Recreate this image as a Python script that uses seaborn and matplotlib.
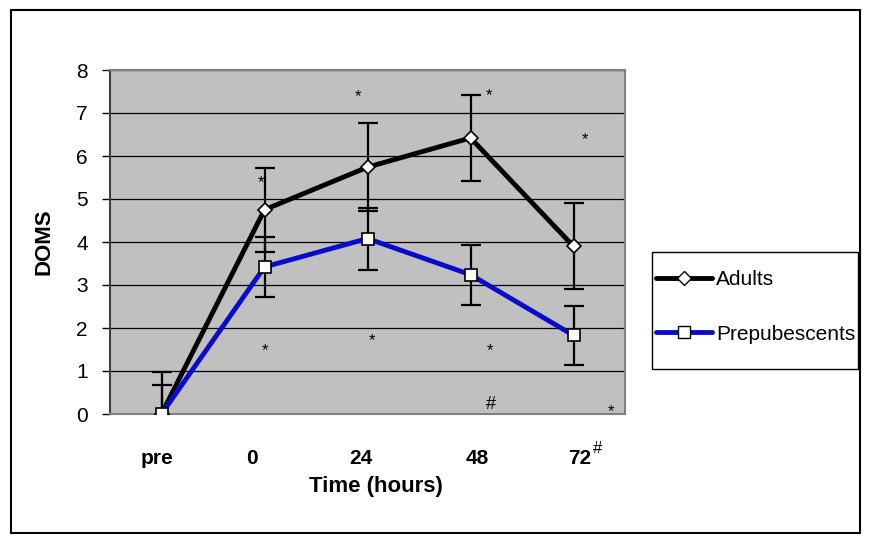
import numpy as np
import pandas as pd
import matplotlib.pyplot as plt
import matplotlib.transforms as mtransforms
from matplotlib.patches import Rectangle
from matplotlib.lines import Line2D
import seaborn as sns

# data
time_labels = ["pre", "0", "24", "48", "72"]
adults = [0.0, 4.75, 5.74, 6.42, 3.90]
adults_err = [0.98, 0.98, 1.02, 1.0, 1.0]
prepub = [0.0, 3.42, 4.08, 3.24, 1.83]
prepub_err = [0.67, 0.70, 0.72, 0.70, 0.69]

# significance marks (category index, DOMS value, symbol)
mark_x = [0.97, 1.91, 3.18, 4.11, 1.0, 2.04, 3.19, 4.36, 3.2]
mark_y = [5.37, 7.37, 7.40, 6.37, 1.47, 1.70, 1.47, 0.05, 0.23]
mark_sym = ["*", "*", "*", "*", "*", "*", "*", "*", "#"]

sns.set_theme(style="white")
plt.rcParams["font.family"] = ["Liberation Sans", "DejaVu Sans"]
plt.rcParams["text.color"] = "black"
plt.rcParams["axes.labelcolor"] = "black"
plt.rcParams["ytick.color"] = "black"
narrow = ["Liberation Sans Narrow", "Liberation Sans", "DejaVu Sans"]

df = pd.DataFrame({
    "idx": list(range(len(time_labels))) * 2,
    "DOMS": adults + prepub,
    "group": ["Adults"] * 5 + ["Prepubescents"] * 5,
})

fig = plt.figure(figsize=(8.72, 5.44), dpi=100)
ax = fig.add_axes([110 / 872, 130 / 544, 515 / 872, 344 / 544])
ax.set_facecolor("#c0c0c0")

idx = np.arange(len(time_labels))
ax.errorbar(idx, adults, yerr=adults_err, fmt="none", ecolor="black",
            elinewidth=1.6, capsize=7, capthick=1.6, zorder=3)
ax.errorbar(idx, prepub, yerr=prepub_err, fmt="none", ecolor="black",
            elinewidth=1.6, capsize=7, capthick=1.6, zorder=3)

sns.lineplot(data=df, x="idx", y="DOMS", hue="group", style="group",
             palette={"Adults": "black", "Prepubescents": "#0a0acc"},
             markers={"Adults": "D", "Prepubescents": "s"},
             dashes=False, linewidth=3.5, markersize=9,
             markerfacecolor="white", markeredgecolor="black",
             markeredgewidth=1.2, legend=False, ax=ax, zorder=4)
for ln in ax.lines:
    if ln.get_marker() == "D":
        ln.set_markersize(7.5)

ax.set_xlim(-0.5, 4.5)
ax.set_ylim(0, 8)
ax.set_yticks(range(0, 9))
ax.yaxis.grid(True, color="black", linewidth=0.9)
ax.set_axisbelow(True)
ax.tick_params(axis="y", which="both", left=True, length=6, width=1,
               color="black", labelsize=15, pad=10)
ax.set_xticks([])
for side in ["top", "right", "bottom"]:
    ax.spines[side].set_color("#808080")
    ax.spines[side].set_linewidth(1.5)
ax.spines["left"].set_color("#404040")
ax.spines["left"].set_linewidth(1.5)

ax.set_ylabel("DOMS", fontsize=16, fontweight="bold")
ax.yaxis.set_label_coords(-0.108, 0.5)
ax.set_xlabel("Time (hours)", fontsize=16, fontweight="bold", family=narrow)
ax.xaxis.set_label_coords(0.516, -0.18)

# category labels sit a bit off the data positions in the original
trans = mtransforms.blended_transform_factory(ax.transData, ax.transAxes)
label_shift = [-0.04, -0.12, -0.06, 0.07, 0.06]
for i, lab in enumerate(time_labels):
    ax.text(i + label_shift[i], -0.128, lab, transform=trans, ha="center",
            va="center", fontsize=15, fontweight="bold", family=narrow)
ax.text(4.23, -0.10, "#", transform=trans, ha="center", va="center",
        fontsize=12, family=narrow)

for x, y, s in zip(mark_x, mark_y, mark_sym):
    ax.text(x, y, s, ha="center", va="center",
            fontsize=12 if s == "*" else 13, color="black", clip_on=False)

handles = [
    Line2D([], [], color="black", linewidth=3.5, marker="D", markersize=7.5,
           markerfacecolor="white", markeredgecolor="black"),
    Line2D([], [], color="#0a0acc", linewidth=3.5, marker="s", markersize=9,
           markerfacecolor="white", markeredgecolor="black"),
]
leg = fig.legend(handles, ["Adults", "Prepubescents"], loc="center left",
                 bbox_to_anchor=(656 / 872, 1 - 307 / 544), fontsize=15,
                 frameon=False, handlelength=2.7, handletextpad=0.2,
                 labelspacing=1.7, borderpad=0, borderaxespad=0)

fig.patches.append(Rectangle((652 / 872, 1 - 369 / 544), 206 / 872, 117 / 544,
                             transform=fig.transFigure, fill=False,
                             edgecolor="black", linewidth=1))
fig.patches.append(Rectangle((11 / 872, 11 / 544), 849 / 872, 523 / 544,
                             transform=fig.transFigure, fill=False,
                             edgecolor="black", linewidth=1.5))

fig.savefig("out.png", dpi=100)
